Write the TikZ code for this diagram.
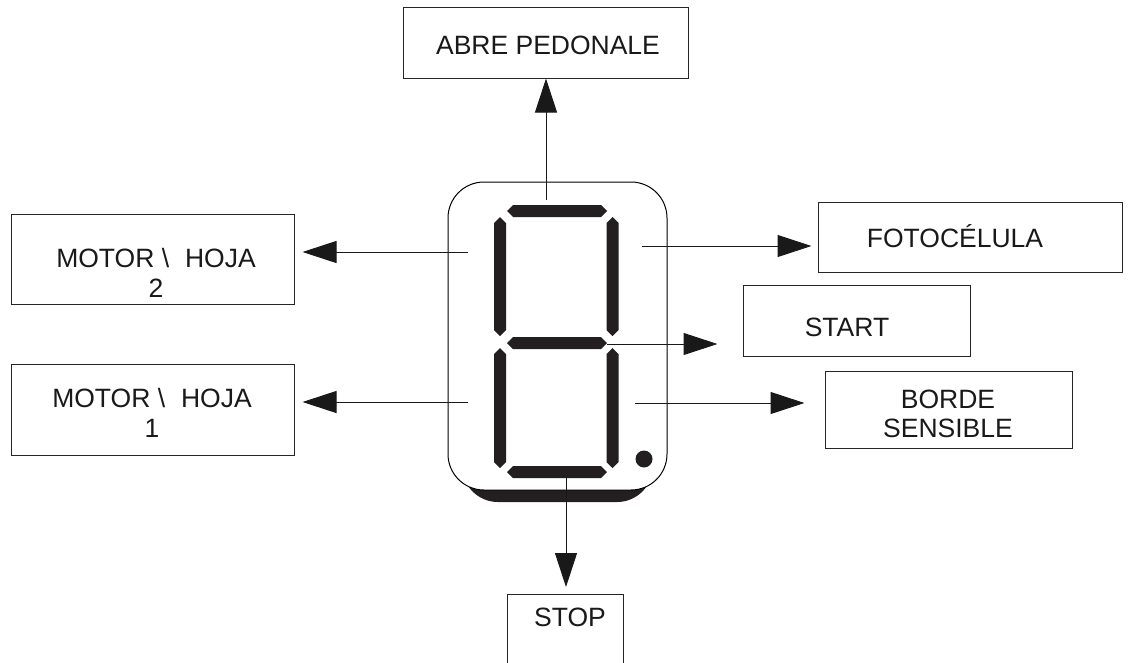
\documentclass[tikz,border=0pt]{standalone}
\usepackage{fontspec}
\setmainfont{Liberation Sans}
\usetikzlibrary{arrows.meta}
\definecolor{segc}{HTML}{231F20}
\tikzset{
  box/.style={draw=black!85, line width=1pt, fill=white, inner sep=0pt},
  lbl/.style={font=\fontsize{26.5}{29.5}\selectfont, align=center, inner sep=0pt, text=black!90},
  conn/.style={draw=black!90, line width=1pt, -{Triangle[length=34pt,width=22pt]}},
  seg/.style={fill=segc},
}
\newcommand\hseg[3]{\fill[seg] (#1,#3) -- (#1+6,#3-6) -- (#2-6,#3-6) -- (#2,#3) -- (#2-6,#3+6) -- (#1+6,#3+6) -- cycle;}
\newcommand\vseg[3]{\fill[seg] (#1,#2) -- (#1+6,#2+6) -- (#1+6,#3-6) -- (#1,#3) -- (#1-6,#3-6) -- (#1-6,#2+6) -- cycle;}
\begin{document}
\begin{tikzpicture}[x=1pt,y=-1pt]
\useasboundingbox (0,0) rectangle (1133,662);
% display shadow and body
\fill[segc, rounded corners=36pt] (462,400) rectangle (653,502);
\draw[line width=1pt, fill=white, rounded corners=36pt] (448,182) rectangle (667,490);
% segments
\hseg{507}{607}{211}
\hseg{507}{607}{343}
\hseg{507}{607}{472}
\vseg{500}{217}{336}
\vseg{612.5}{217}{336}
\vseg{500}{348}{468}
\vseg{612.5}{348}{468}
\fill[segc] (644,459) circle (8.5);
% boxes
\node[box, minimum width=285pt, minimum height=71pt] (abre) at (545.5,42.5) {};
\node[lbl] at (548,45) {ABRE PEDONALE};
\node[box, minimum width=283pt, minimum height=90pt] (m2) at (152.5,259) {};
\node[lbl] at (156,273) {MOTOR \textbackslash\hspace{0.6em}HOJA\\2};
\node[box, minimum width=283pt, minimum height=91pt] (m1) at (152.5,409.5) {};
\node[lbl] at (152,413) {MOTOR \textbackslash\hspace{0.6em}HOJA\\1};
\node[box, minimum width=304pt, minimum height=70pt] (foto) at (970,237) {};
\node[lbl] at (955,236) {FOTOCÉLULA};
\node[box, minimum width=227pt, minimum height=71pt] (start) at (856.5,320.5) {};
\node[lbl] at (847,327) {START};
\node[box, minimum width=247pt, minimum height=77pt] (borde) at (948.5,409.5) {};
\node[lbl] at (948,414) {BORDE\\SENSIBLE};
\node[box, minimum width=116pt, minimum height=100pt, anchor=north] (stop) at (565,594) {};
\node[lbl] at (570,617) {STOP};
% connector start points
\coordinate (pu) at (546,200);
\coordinate (pul) at (468,252);
\coordinate (pll) at (468,402);
\coordinate (pur) at (642,246);
\coordinate (pmid) at (607,344);
\coordinate (plr) at (635,403);
\coordinate (pd) at (566,478);
% connectors
\draw[conn] (pu) -- (pu |- abre.south);
\draw[conn, shorten >=8pt] (pul) -- (m2.east |- pul);
\draw[conn, shorten >=8pt] (pll) -- (m1.east |- pll);
\draw[conn, shorten >=6pt] (pur) -- (foto.west |- pur);
\draw[conn, shorten >=25pt] (pmid) -- (start.west |- pmid);
\draw[conn, shorten >=20pt] (plr) -- (borde.west |- plr);
\draw[conn, shorten >=7pt] (pd) -- (pd |- stop.north);
\end{tikzpicture}
\end{document}
